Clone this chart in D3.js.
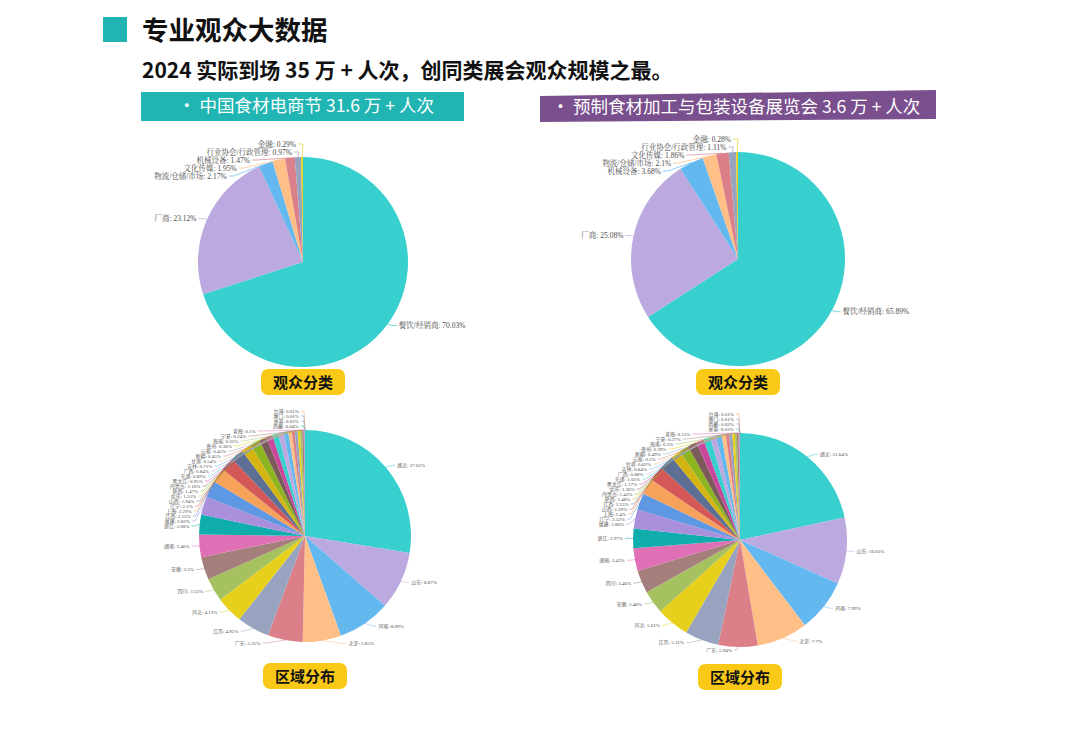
<!DOCTYPE html>
<html>
<head>
<meta charset="utf-8">
<script src="https://cdn.jsdelivr.net/npm/d3@7"></script>
<style>
html, body { margin: 0; padding: 0; background: #fff; }
svg { display: block; }
.head { font-family: "Noto Sans CJK SC", sans-serif; }
.pie-label { font-family: "Liberation Serif", "Noto Serif CJK SC", "Noto Sans CJK SC", serif; fill: #4a4a4a; }
</style>
</head>
<body>
<div id="chart-area"></div>
<script>
const chartSize = { width: 1080, height: 745 };

// 观众分类
const foodCats = ["餐饮/经销商", "厂商", "物流/仓储/市场", "文化传媒", "机械设备", "行业协会/行政管理", "金融"];
const foodCatPct = ["70.03", "23.12", "2.17", "1.95", "1.47", "0.97", "0.29"];
const equipCats = ["餐饮/经销商", "厂商", "机械设备", "物流/仓储/市场", "文化传媒", "行业协会/行政管理", "金融"];
const equipCatPct = ["65.89", "25.08", "3.68", "2.1", "1.86", "1.11", "0.28"];

// 区域分布
const foodRegions = ["湖北", "山东", "河南", "北京", "广东", "江苏", "河北", "四川", "安徽", "湖南",
    "浙江", "福建", "江西", "上海", "辽宁", "山西", "重庆", "陕西", "内蒙古", "黑龙江",
    "天津", "广西", "吉林", "甘肃", "新疆", "云南", "贵州", "海南", "宁夏", "青海",
    "西藏", "香港", "澳门", "台湾"];
const foodRegionPct = ["27.61", "8.87", "8.09", "5.85", "5.35", "4.95", "4.13", "3.55", "3.5", "3.46",
    "3.00", "2.82", "2.53", "2.29", "2.1", "1.94", "1.55", "1.47", "1.16", "0.95",
    "0.89", "0.84", "0.71", "0.54", "0.45", "0.45", "0.36", "0.32", "0.24", "0.1",
    "0.04", "0.03", "0.01", "0.01"];
const equipRegions = ["湖北", "山东", "河南", "北京", "广东", "江苏", "河北", "安徽", "四川", "湖南",
    "浙江", "福建", "辽宁", "上海", "山西", "江西", "陕西", "内蒙古", "重庆", "黑龙江",
    "天津", "广西", "吉林", "甘肃", "云南", "新疆", "贵州", "海南", "宁夏", "青海",
    "香港", "西藏", "澳门", "台湾"];
const equipRegionPct = ["21.64", "10.03", "7.99", "7.7", "5.94", "5.11", "5.01", "3.48", "3.46", "3.43",
    "2.97", "2.86", "2.52", "2.4", "2.29", "2.23", "1.48", "1.43", "1.36", "1.17",
    "1.05", "0.88", "0.84", "0.62", "0.5", "0.49", "0.39", "0.3", "0.27", "0.13",
    "0.03", "0.02", "0.01", "0.01"];

const palette = ["#38cfcf", "#bca9e0", "#63b8f0", "#ffbf87", "#db8088", "#97a3bf", "#e7d01c",
    "#a5c160", "#a57f7b", "#e070b6", "#10adad", "#a98fdc", "#5e97e2", "#f6a25b",
    "#d45858", "#5e6f94", "#d4b410", "#8db520", "#7b5b59", "#c8479b"];

const svg = d3.select("#chart-area").append("svg")
    .attr("width", chartSize.width)
    .attr("height", chartSize.height);

// header
svg.append("rect").attr("x", 103).attr("y", 17).attr("width", 24).attr("height", 25).attr("fill", "#20b5b2");
svg.append("text").attr("class", "head").attr("x", 142).attr("y", 40)
    .attr("font-size", 26.5).attr("font-weight", 700).attr("fill", "#111").text("专业观众大数据");
svg.append("text").attr("class", "head").attr("x", 142).attr("y", 78)
    .attr("font-size", 21).attr("font-weight", 700).attr("fill", "#111")
    .text("2024 实际到场 35 万 + 人次，创同类展会观众规模之最。");

svg.append("rect").attr("x", 141).attr("y", 92).attr("width", 323).attr("height", 29).attr("fill", "#20b5b2");
svg.append("text").attr("class", "head").attr("x", 306).attr("y", 112)
    .attr("text-anchor", "middle").attr("font-size", 17.5).attr("fill", "#fff")
    .text("· 中国食材电商节 31.6 万 + 人次");
svg.append("polygon").attr("points", "540,96 936,90 936,119 540,122").attr("fill", "#7a4f8e");
svg.append("text").attr("class", "head").attr("x", 736).attr("y", 113)
    .attr("text-anchor", "middle").attr("font-size", 17.5).attr("fill", "#fff")
    .text("· 预制食材加工与包装设备展览会 3.6 万 + 人次");

// spread labels on one side: keep order, min spacing, balanced, not above top
const spread = function(items, gap, top) {
    const blocks = [];
    items.forEach((it, k) => {
        let b = { sum: it.y - k * gap, n: 1, start: k };
        b.mean = b.sum;
        while (blocks.length && blocks[blocks.length - 1].mean > b.mean) {
            const p = blocks.pop();
            b = { sum: p.sum + b.sum, n: p.n + b.n, start: p.start };
            b.mean = b.sum / b.n;
        }
        blocks.push(b);
    });
    blocks.forEach(b => {
        for (let j = 0; j < b.n; j++) {
            const k = b.start + j;
            items[k].y = Math.max(b.mean, top) + k * gap;
        }
    });
};

const drawPie = function(names, pcts, opt) {
    const data = names.map((name, i) => ({ name, text: pcts[i], value: +pcts[i] }));
    const color = d3.scaleOrdinal().domain(d3.range(palette.length)).range(palette);
    const arcs = d3.pie().sort(null).value(d => d.value)(data);
    const arc = d3.arc().innerRadius(0).outerRadius(opt.r);
    const g = svg.append("g").attr("transform", `translate(${opt.cx},${opt.cy})`);

    g.selectAll("path.slice").data(arcs).join("path")
        .attr("class", "slice")
        .attr("d", arc)
        .attr("fill", (d, i) => color(i % palette.length));

    const labels = arcs.map((d, i) => {
        const a = (d.startAngle + d.endAngle) / 2;
        const s = Math.sin(a), c = -Math.cos(a);
        return {
            d, i, dir: s < 0 ? -1 : 1,
            px: s * opt.r, py: c * opt.r,
            y: c * (opt.r + opt.len)
        };
    });
    [-1, 1].forEach(dir => {
        const side = labels.filter(l => l.dir === dir).sort((p, q) => p.y - q.y);
        spread(side, opt.gap, -(opt.r + opt.topPad));
    });
    const rt = opt.r + opt.textR;
    labels.forEach(l => {
        const rest = rt * rt - l.y * l.y;
        l.x = rest > (0.35 * rt) ** 2 ? l.dir * Math.sqrt(rest) : l.px + l.dir * 6;
    });

    g.selectAll("path.leader").data(labels).join("path")
        .attr("class", "leader")
        .attr("fill", "none")
        .attr("stroke", l => color(l.i % palette.length))
        .attr("stroke-width", opt.lineW)
        .attr("d", l => {
            const ex = l.x - l.dir * 2;
            const bx = l.x - l.dir * (2 + opt.stub);
            return `M${l.px},${l.py}L${bx},${l.y}L${ex},${l.y}`;
        });

    g.selectAll("text.pie-label").data(labels).join("text")
        .attr("class", "pie-label")
        .attr("x", l => l.x)
        .attr("y", l => l.y)
        .attr("dy", "0.35em")
        .attr("font-size", opt.font)
        .attr("text-anchor", l => (l.dir < 0 ? "end" : "start"))
        .text(l => `${l.d.data.name}: ${l.d.data.text}%`);

    // caption badge
    const cap = svg.append("g").attr("transform", `translate(${opt.cx},${opt.capY})`);
    cap.append("rect").attr("x", -42).attr("y", -13).attr("width", 84).attr("height", 26)
        .attr("rx", 7).attr("fill", "#fac917");
    cap.append("text").attr("class", "head").attr("y", 5.5).attr("text-anchor", "middle")
        .attr("font-size", 15).attr("font-weight", 700).attr("fill", "#111").text(opt.caption);
};

const topOpt = { r: 105, len: 3, gap: 8, topPad: 13, textR: 10, stub: 5, font: 7.5, lineW: 0.7 };
const botOpt = { r: 106, len: 3, gap: 5, topPad: 19, textR: 10, stub: 3, font: 5, lineW: 0.5 };

drawPie(foodCats, foodCatPct, { ...topOpt, cx: 303, cy: 262, capY: 382, caption: "观众分类" });
drawPie(equipCats, equipCatPct, { ...topOpt, r: 107, cx: 738, cy: 259, capY: 382, caption: "观众分类" });
drawPie(foodRegions, foodRegionPct, { ...botOpt, cx: 305, cy: 536, capY: 676, caption: "区域分布" });
drawPie(equipRegions, equipRegionPct, { ...botOpt, r: 107, cx: 740, cy: 540, capY: 677, caption: "区域分布" });
</script>
</body>
</html>
